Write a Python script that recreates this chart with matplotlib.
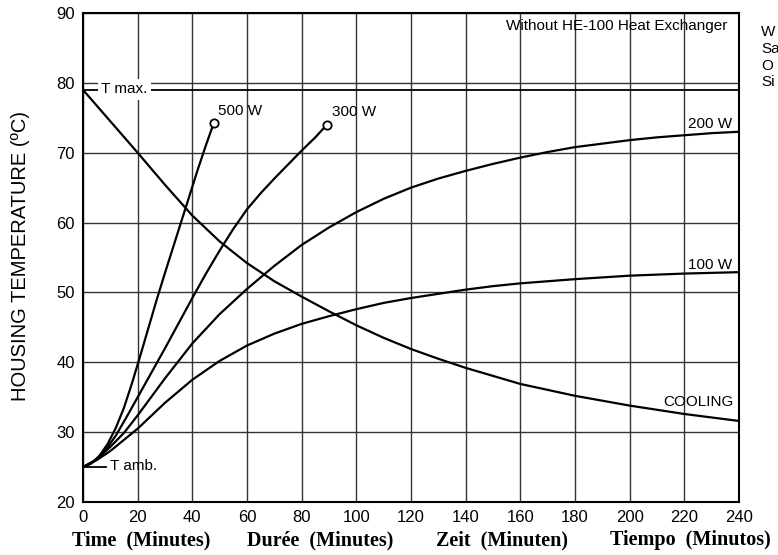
import matplotlib
matplotlib.use("Agg")
import matplotlib.pyplot as plt

plt.rcParams["font.family"] = ["Liberation Sans", "DejaVu Sans"]

# heating curves (minutes, deg C)
t_500 = [0, 3, 6, 9, 12, 15, 18, 21, 24, 27, 30, 33, 36, 39, 42, 45, 47.8]
T_500 = [25, 25.5, 26.6, 28.3, 30.6, 33.5, 37.1, 41.0, 45.0, 49.0, 52.8, 56.5,
         60.2, 63.9, 67.6, 71.1, 74.2]

t_300 = [0, 4, 8, 12, 16, 20, 25, 30, 35, 40, 45, 50, 55, 60, 65, 70, 75, 80, 85, 89.2]
T_300 = [25, 25.8, 27.3, 29.5, 32.2, 35, 38.5, 42, 45.6, 49.2, 52.7, 56, 59.1,
         61.9, 64.2, 66.3, 68.3, 70.3, 72.2, 74]

t_200 = [0, 5, 10, 15, 20, 30, 40, 50, 60, 70, 80, 90, 100, 110, 120, 130, 140,
         150, 160, 170, 180, 190, 200, 210, 220, 230, 240]
T_200 = [25, 26.1, 27.9, 29.9, 32.4, 37.7, 42.7, 46.9, 50.5, 53.8, 56.8, 59.3,
         61.5, 63.4, 65.0, 66.3, 67.4, 68.4, 69.3, 70.1, 70.8, 71.3, 71.8, 72.2,
         72.5, 72.8, 73.0]

t_100 = [0, 5, 10, 20, 30, 40, 50, 60, 70, 80, 90, 100, 110, 120, 130, 140, 150,
         160, 170, 180, 200, 220, 240]
T_100 = [25, 26, 27.3, 30.5, 34.2, 37.5, 40.2, 42.4, 44.1, 45.5, 46.6, 47.6, 48.5,
         49.2, 49.8, 50.4, 50.9, 51.3, 51.6, 51.9, 52.4, 52.7, 52.9]

t_cool = [0, 10, 20, 30, 40, 50, 60, 70, 80, 90, 100, 110, 120, 130, 140, 160,
          180, 200, 220, 240]
T_cool = [79, 74.5, 70, 65.4, 61, 57.3, 54.2, 51.6, 49.4, 47.3, 45.3, 43.5, 41.9,
          40.5, 39.2, 36.9, 35.2, 33.8, 32.6, 31.6]

T_MAX = 79
T_AMB = 25
x_ticks = list(range(0, 241, 20))
y_ticks = list(range(20, 91, 10))
time_labels = ["Time  (Minutes)", "Durée  (Minutes)", "Zeit  (Minuten)", "Tiempo  (Minutos)"]
side_labels = ["W", "Sa", "O", "Si"]

W, H = 778, 555
fig = plt.figure(figsize=(W / 100, H / 100), dpi=100)
ax = fig.add_axes([83 / W, 53 / H, 656 / W, 489 / H])

ax.set_xlim(0, 240)
ax.set_ylim(20, 90)
ax.set_xticks(x_ticks)
ax.set_yticks(y_ticks)
ax.tick_params(length=0, pad=6, labelsize=12)
ax.grid(True, color="#333333", lw=1.0)
ax.set_axisbelow(True)
for s in ax.spines.values():
    s.set_linewidth(1.5)
    s.set_color("black")

lw = 1.6
ax.axhline(T_MAX, color="black", lw=1.3, zorder=2)
ax.plot([0, 8.5], [T_AMB, T_AMB], color="black", lw=1.3)

for t, T in [(t_500, T_500), (t_300, T_300), (t_200, T_200), (t_100, T_100), (t_cool, T_cool)]:
    ax.plot(t, T, color="black", lw=lw, solid_capstyle="round", solid_joinstyle="round")

# end markers on the short curves
for t, T in [(t_500, T_500), (t_300, T_300)]:
    ax.plot(t[-1], T[-1], marker="o", ms=6, mfc="white", mec="black", mew=1.3)

fs = 11
ax.text(49.5, 75.9, "500 W", fontsize=fs, ha="left", va="center")
ax.text(91, 75.8, "300 W", fontsize=fs, ha="left", va="center")
ax.text(237.4, 74.1, "200 W", fontsize=fs, ha="right", va="center")
ax.text(237.5, 53.9, "100 W", fontsize=fs, ha="right", va="center")
ax.text(237.9, 34.3, "COOLING", fontsize=fs, ha="right", va="center")
ax.text(235.6, 88.2, "Without HE-100 Heat Exchanger", fontsize=fs, ha="right", va="center")
ax.text(6.7, 79.1, "T max.", fontsize=fs, ha="left", va="center", zorder=5,
        bbox=dict(facecolor="white", edgecolor="none", pad=2.5))
ax.text(10, T_AMB + 0.2, "T amb.", fontsize=fs, ha="left", va="center")

fig.text(21 / W, 1 - 256.5 / H, "HOUSING TEMPERATURE (ºC)", fontsize=14.5,
         rotation=90, ha="center", va="center")

for x, lab in zip([141.5, 320.5, 502, 690], time_labels):
    fig.text(x / W, 1 - 540 / H, lab, fontsize=14.5, ha="center", va="center",
             family="Liberation Serif", weight="bold")

for i, lab in enumerate(side_labels):
    fig.text(761 / W, 1 - (32.5 + 16.5 * i) / H, lab, fontsize=fs, ha="left", va="center")

fig.savefig("out.png", dpi=100)
